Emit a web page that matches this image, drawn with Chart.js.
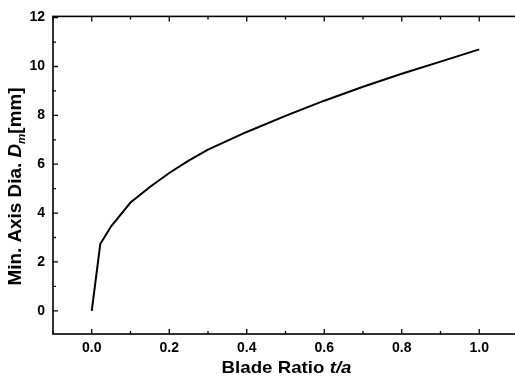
<!DOCTYPE html>
<html>
<head>
<meta charset="utf-8">
<script src="https://cdn.jsdelivr.net/npm/chart.js@4.4.0/dist/chart.umd.min.js"></script>
<style>
  html, body { margin: 0; padding: 0; background: #fff; overflow: hidden; }
  #wrap { width: 520px; height: 379px; }
</style>
</head>
<body>
<div id="wrap"><canvas id="chart" width="520" height="379"></canvas></div>
<script>
// Data
const bladeRatio = [0, 0.022, 0.05, 0.1, 0.15, 0.2, 0.25, 0.3, 0.4, 0.5, 0.6, 0.7, 0.8, 0.9, 1.0];
const minAxisDia = [0, 2.73, 3.46, 4.43, 5.07, 5.64, 6.15, 6.6, 7.32, 7.98, 8.6, 9.17, 9.7, 10.2, 10.7];

const xTicks = [0, 0.2, 0.4, 0.6, 0.8, 1.0];
const xMinorTicks = [-0.1, 0.1, 0.3, 0.5, 0.7, 0.9];
const yTicks = [0, 2, 4, 6, 8, 10, 12];
const yMinorTicks = [1, 3, 5, 7, 9, 11];

const FONT = '"Liberation Sans", Arial, sans-serif';

// draws text pieces with different fonts, stretched to a given width
function drawParts(ctx, parts, cx, baseY, targetW) {
  let w = 0;
  parts.forEach(p => { ctx.font = p.f; w += ctx.measureText(p.t).width; });
  const k = targetW / w;
  ctx.save();
  ctx.translate(cx - targetW / 2, baseY);
  ctx.scale(k, 1);
  let x = 0;
  parts.forEach(p => {
    ctx.font = p.f;
    ctx.fillText(p.t, x, p.dy || 0);
    x += ctx.measureText(p.t).width;
  });
  ctx.restore();
}

// frame, inward ticks and the mixed-style axis titles
const framePlugin = {
  id: 'frame',
  afterDraw(chart) {
    const ctx = chart.ctx;
    const a = chart.chartArea;
    const xs = chart.scales.x;
    const ys = chart.scales.y;
    ctx.save();
    ctx.strokeStyle = '#000';
    ctx.lineWidth = 1.6;
    ctx.strokeRect(a.left, a.top, a.right - a.left, a.bottom - a.top);

    ctx.lineWidth = 1.3;
    ctx.beginPath();
    const tickX = (vals, len) => {
      vals.forEach(v => {
        const px = xs.getPixelForValue(v);
        ctx.moveTo(px, a.bottom); ctx.lineTo(px, a.bottom - len);
        ctx.moveTo(px, a.top); ctx.lineTo(px, a.top + len);
      });
    };
    const tickY = (vals, len) => {
      vals.forEach(v => {
        const py = ys.getPixelForValue(v);
        ctx.moveTo(a.left, py); ctx.lineTo(a.left + len, py);
      });
    };
    tickX(xTicks, 5);
    tickX(xMinorTicks, 3);
    tickY(yTicks, 5);
    tickY(yMinorTicks, 3);
    ctx.stroke();

    ctx.fillStyle = '#000';
    ctx.textAlign = 'left';
    ctx.textBaseline = 'alphabetic';

    // x title
    drawParts(ctx, [
      { t: 'Blade Ratio ', f: 'bold 17px ' + FONT },
      { t: 't/a', f: 'italic bold 17px ' + FONT }
    ], 286.5, 373, 130);

    // y title, rotated
    ctx.save();
    ctx.translate(21, 186.5);
    ctx.rotate(-Math.PI / 2);
    drawParts(ctx, [
      { t: 'Min. Axis Dia. ', f: 'bold 18px ' + FONT },
      { t: 'D', f: 'italic bold 18px ' + FONT },
      { t: 'm', f: 'italic bold 11px ' + FONT, dy: 4 },
      { t: '[mm]', f: 'bold 18px ' + FONT }
    ], 0, 0, 198);
    ctx.restore();
    ctx.restore();
  }
};

new Chart(document.getElementById('chart'), {
  type: 'line',
  data: {
    datasets: [{
      data: bladeRatio.map((v, i) => ({ x: v, y: minAxisDia[i] })),
      borderColor: '#000',
      borderWidth: 2,
      pointRadius: 0,
      fill: false,
      tension: 0
    }]
  },
  options: {
    responsive: false,
    animation: false,
    layout: { padding: { left: 0, right: 2, top: 14, bottom: 0 } },
    plugins: { legend: { display: false }, tooltip: { enabled: false } },
    scales: {
      x: {
        type: 'linear',
        min: -0.1,
        max: 1.1,
        grid: { display: false, drawTicks: false },
        border: { display: false },
        afterBuildTicks: s => { s.ticks = xTicks.map(v => ({ value: v })); },
        afterFit: s => { s.height = 45; },
        ticks: {
          color: '#000',
          padding: 6,
          font: { family: FONT, size: 14, weight: 'bold' },
          callback: v => Number(v).toFixed(1)
        }
      },
      y: {
        type: 'linear',
        min: -0.95,
        max: 12.05,
        grid: { display: false, drawTicks: false },
        border: { display: false },
        afterBuildTicks: s => { s.ticks = yTicks.map(v => ({ value: v })); },
        afterFit: s => { s.width = 53; },
        ticks: {
          color: '#000',
          padding: 8,
          font: { family: FONT, size: 14, weight: 'bold' },
          callback: v => String(v)
        }
      }
    }
  },
  plugins: [framePlugin]
});
</script>
</body>
</html>
